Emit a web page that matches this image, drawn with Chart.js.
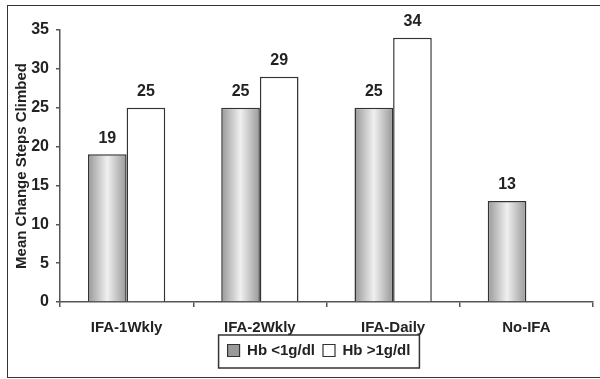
<!DOCTYPE html>
<html>
<head>
<meta charset="utf-8">
<script src="https://cdn.jsdelivr.net/npm/chart.js@4"></script>
<style>
  body { margin: 0; background: #fff; }
  #wrap { position: relative; width: 600px; height: 379px; }
  #frame { position: absolute; left: 7px; top: 5px; width: 600px; height: 373px; border: 1.5px solid #333; box-sizing: border-box; pointer-events: none; }
</style>
</head>
<body>
<div id="wrap">
  <canvas id="myChart" width="600" height="379"></canvas>
  <div id="frame"></div>
</div>
<script>
const categories = ['IFA-1Wkly', 'IFA-2Wkly', 'IFA-Daily', 'No-IFA'];
const hbLow = [19, 25, 25, 13];
const hbHigh = [25, 29, 34, null];
const yTicks = [0, 5, 10, 15, 20, 25, 30, 35];

const FONT = '"Liberation Sans", Arial, sans-serif';
const CAT_PCT = 0.58;
const ctx = document.getElementById('myChart');

// gray bars: dark edges, light middle, like the original
function grayShade(context) {
  const chart = context.chart;
  const x = chart.scales.x;
  if (!x || context.dataIndex === undefined || !chart.chartArea) return '#aaa';
  const catW = x.width / categories.length;
  const barW = catW * CAT_PCT / 2;
  const x0 = x.getPixelForValue(context.dataIndex) - barW;
  const g = chart.ctx.createLinearGradient(x0, 0, x0 + barW, 0);
  g.addColorStop(0, '#989898');
  g.addColorStop(0.5, '#f0f0f0');
  g.addColorStop(1, '#989898');
  return g;
}

// numbers over the bars
const valueLabels = {
  id: 'valueLabels',
  afterDatasetsDraw(chart) {
    const c = chart.ctx;
    c.save();
    c.font = 'bold 16px ' + FONT;
    c.fillStyle = '#222';
    c.textAlign = 'center';
    c.textBaseline = 'bottom';
    chart.data.datasets.forEach((ds, i) => {
      chart.getDatasetMeta(i).data.forEach((bar, j) => {
        if (ds.data[j] == null) return;
        c.fillText(ds.data[j], bar.x, bar.y - 8);
      });
    });
    c.restore();
  }
};

// nudge the legend right and draw its frame
const legendBox = {
  id: 'legendBox',
  afterLayout(chart) {
    chart.legend.left += 16;
    chart.legend.right += 16;
  },
  afterDraw(chart) {
    const lg = chart.legend;
    const c = chart.ctx;
    const w = lg.lineWidths[0] + 10;
    const cx = (lg.left + lg.right) / 2;
    c.save();
    c.strokeStyle = '#333';
    c.lineWidth = 1.5;
    c.strokeRect(cx - w / 2, lg.top, w, lg.bottom - lg.top);
    c.restore();
  }
};

new Chart(ctx, {
  type: 'bar',
  data: {
    labels: categories,
    datasets: [{
      label: 'Hb <1g/dl',
      data: hbLow,
      backgroundColor: grayShade,
      borderColor: '#333',
      borderWidth: 1.5,
      categoryPercentage: CAT_PCT,
      barPercentage: 1.0
    }, {
      label: 'Hb >1g/dl',
      data: hbHigh,
      backgroundColor: '#fff',
      borderColor: '#333',
      borderWidth: 1.5,
      categoryPercentage: CAT_PCT,
      barPercentage: 1.0
    }]
  },
  options: {
    responsive: false,
    animation: false,
    layout: { padding: { left: 13, right: 7, top: 30, bottom: 11 } },
    plugins: {
      tooltip: { enabled: false },
      legend: {
        position: 'bottom',
        labels: {
          font: { family: FONT, size: 15, weight: 'bold' },
          color: '#222',
          boxWidth: 12,
          boxHeight: 12,
          padding: 8,
          generateLabels(chart) {
            return Chart.defaults.plugins.legend.labels.generateLabels(chart).map((item, i) => {
              item.fillStyle = i === 0 ? '#9a9a9a' : '#fff';
              item.strokeStyle = '#333';
              item.lineWidth = 1.2;
              return item;
            });
          }
        }
      }
    },
    scales: {
      x: {
        grid: { display: true, drawOnChartArea: false, offset: true, tickLength: 5, color: '#555', lineWidth: 1.5 },
        border: { color: '#555', width: 1.5 },
        ticks: { font: { family: FONT, size: 15, weight: 'bold' }, color: '#222', padding: 12 },
        afterFit(scale) { scale.height = 33; }
      },
      y: {
        min: 0,
        max: 35,
        afterBuildTicks(scale) { scale.ticks = yTicks.map(v => ({ value: v })); },
        grid: { display: true, drawOnChartArea: false, tickLength: 4, color: '#555', lineWidth: 1.5 },
        border: { color: '#555', width: 1.5 },
        ticks: { font: { family: FONT, size: 16, weight: 'bold' }, color: '#222', padding: 7 },
        title: {
          display: true,
          text: 'Mean Change Steps Climbed',
          font: { family: FONT, size: 15, weight: 'bold' },
          color: '#222',
          padding: { top: 0, bottom: 2 }
        },
        afterFit(scale) { scale.width = 47; }
      }
    }
  },
  plugins: [valueLabels, legendBox]
});
</script>
</body>
</html>
